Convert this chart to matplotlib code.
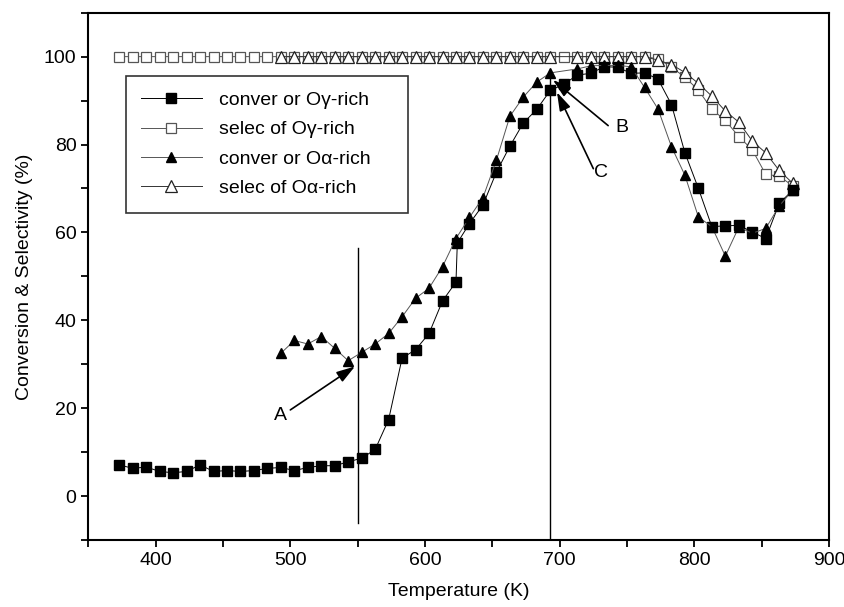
import matplotlib
matplotlib.use("Agg")
import matplotlib.pyplot as plt
from matplotlib.ticker import MultipleLocator

plt.rcParams['font.family'] = ['Liberation Sans', 'DejaVu Sans']

# --- Data ---

# conversion of O-gamma-rich (filled squares)
temp_conv_g = [373, 383, 393, 403, 413, 423, 433, 443, 453, 463, 473, 483, 493, 503,
               513, 523, 533, 543, 553, 563, 573, 583, 593, 603, 613, 623, 624, 633,
               643, 653, 663, 673, 683, 693, 703, 713, 723, 733, 743, 753, 763, 773,
               783, 793, 803, 813, 823, 833, 843, 853, 863, 873]
conv_g = [7.1, 6.3, 6.6, 5.6, 5.3, 5.6, 7.1, 5.6, 5.8, 5.6, 5.8, 6.3, 6.5, 5.8,
          6.5, 6.9, 6.9, 7.8, 8.6, 10.6, 17.4, 31.4, 33.3, 37.0, 44.4, 48.7, 57.6, 62.0,
          66.2, 73.7, 79.6, 84.9, 88.0, 92.3, 93.7, 95.8, 96.2, 97.7, 97.6, 96.2, 96.3, 94.9,
          89.1, 78.1, 70.0, 61.3, 61.5, 61.6, 60.1, 58.6, 66.6, 69.6]

# selectivity of O-gamma-rich (open squares)
temp_sel_g = [373, 383, 393, 403, 413, 423, 433, 443, 453, 463, 473, 483, 493, 503,
              513, 523, 533, 543, 553, 563, 573, 583, 593, 603, 613, 623, 633, 643,
              653, 663, 673, 683, 693, 703, 713, 723, 733, 743, 753, 763, 773, 783,
              793, 803, 813, 823, 833, 843, 853, 863, 873]
sel_g = [100] * 40 + [99.5, 97.6, 95.3, 92.4, 88.0, 85.5, 81.8, 78.8, 73.2, 72.8, 70.6]

# conversion of O-alpha-rich (filled triangles)
temp_conv_a = [493, 503, 513, 523, 533, 543, 553, 563, 573, 583, 593, 603, 613, 623,
               633, 643, 653, 663, 673, 683, 693, 713, 723, 733, 743, 753, 763, 773,
               783, 793, 803, 813, 823, 833, 843, 853, 863, 873]
conv_a = [32.5, 35.4, 34.6, 36.3, 33.6, 30.8, 32.7, 34.6, 37.0, 40.8, 45.0, 47.3, 52.2, 58.6,
          63.4, 67.9, 76.4, 86.4, 90.8, 94.2, 96.3, 97.2, 97.9, 98.0, 98.0, 97.7, 93.0, 88.1,
          79.5, 73.0, 63.5, 61.3, 54.6, 61.2, 59.8, 60.9, 66.0, 69.6]

# selectivity of O-alpha-rich (open triangles)
temp_sel_a = [493, 503, 513, 523, 533, 543, 553, 563, 573, 583, 593, 603, 613, 623,
              633, 643, 653, 663, 673, 683, 693, 713, 723, 733, 743, 753, 763, 773,
              783, 793, 803, 813, 823, 833, 843, 853, 863, 873]
sel_a = [100] * 27 + [99.2, 98.2, 96.4, 93.9, 91.0, 87.6, 85.1, 80.8, 78.1, 74.1, 71.2]

labels = ["conver or O\u03b3-rich", "selec of O\u03b3-rich",
          "conver or O\u03b1-rich", "selec of O\u03b1-rich"]

# --- Plot ---

fig = plt.figure(figsize=(8.45, 6.07), dpi=100)
ax = fig.add_axes([0.1045, 0.1104, 0.8766, 0.8687])

h2, = ax.plot(temp_sel_g, sel_g, '-', color='#555555', lw=0.7, marker='s', ms=6.5,
              mfc='white', mec='#555555', mew=0.9, zorder=3)
h4, = ax.plot(temp_sel_a, sel_a, '-', color='#333333', lw=0.7, marker='^', ms=8,
              mfc='white', mec='#222222', mew=0.9, zorder=4)
h1, = ax.plot(temp_conv_g, conv_g, '-', color='black', lw=0.7, marker='s', ms=7,
              mfc='black', mec='black', zorder=5)
h3, = ax.plot(temp_conv_a, conv_a, '-', color='#555555', lw=0.7, marker='^', ms=7.5,
              mfc='black', mec='black', zorder=6)

# vertical guide lines
ax.plot([550, 550], [-6.2, 56.4], color='black', lw=1.0, zorder=2)
ax.plot([692.6, 692.6], [-10, 96.5], color='black', lw=1.0, zorder=2)

arrow = dict(arrowstyle='-|>,head_length=0.8,head_width=0.25', color='black', lw=1.2,
             mutation_scale=14, shrinkA=0, shrinkB=0)
ax.text(493, 18.3, "A", fontsize=14, ha='center', va='center')
ax.annotate("", xy=(548, 29.5), xytext=(500, 19.6), arrowprops=arrow)
ax.text(746, 83.8, "B", fontsize=14, ha='center', va='center')
ax.annotate("", xy=(695, 94.7), xytext=(736, 84.3), arrowprops=arrow)
ax.text(731, 73.7, "C", fontsize=14, ha='center', va='center')
ax.annotate("", xy=(698, 91.9), xytext=(725, 74.5), arrowprops=arrow)

ax.set_xlim(350, 900)
ax.set_ylim(-10, 110)
ax.xaxis.set_major_locator(MultipleLocator(100))
ax.xaxis.set_minor_locator(MultipleLocator(50))
ax.yaxis.set_major_locator(MultipleLocator(20))
ax.yaxis.set_minor_locator(MultipleLocator(10))
ax.tick_params(which='both', direction='out', length=5, width=1.3,
               top=False, right=False, labelsize=14)
for s in ax.spines.values():
    s.set_linewidth(1.5)

ax.set_xlabel("Temperature (K)", fontsize=14, labelpad=10)
ax.set_ylabel("Conversion & Selectivity (%)", fontsize=14, labelpad=8)

# trailing spaces widen the box on the right, like the original legend
leg = ax.legend([h1, h2, h3, h4], [s + "    " for s in labels], loc='upper left',
                bbox_to_anchor=(0.0505, 0.88), fontsize=14, frameon=True,
                fancybox=False, edgecolor='black', handlelength=3.1,
                labelspacing=0.6, borderpad=0.8, handletextpad=0.9,
                borderaxespad=0)
leg.get_frame().set_linewidth(1.2)

fig.savefig("out.png", dpi=100, facecolor='white')
